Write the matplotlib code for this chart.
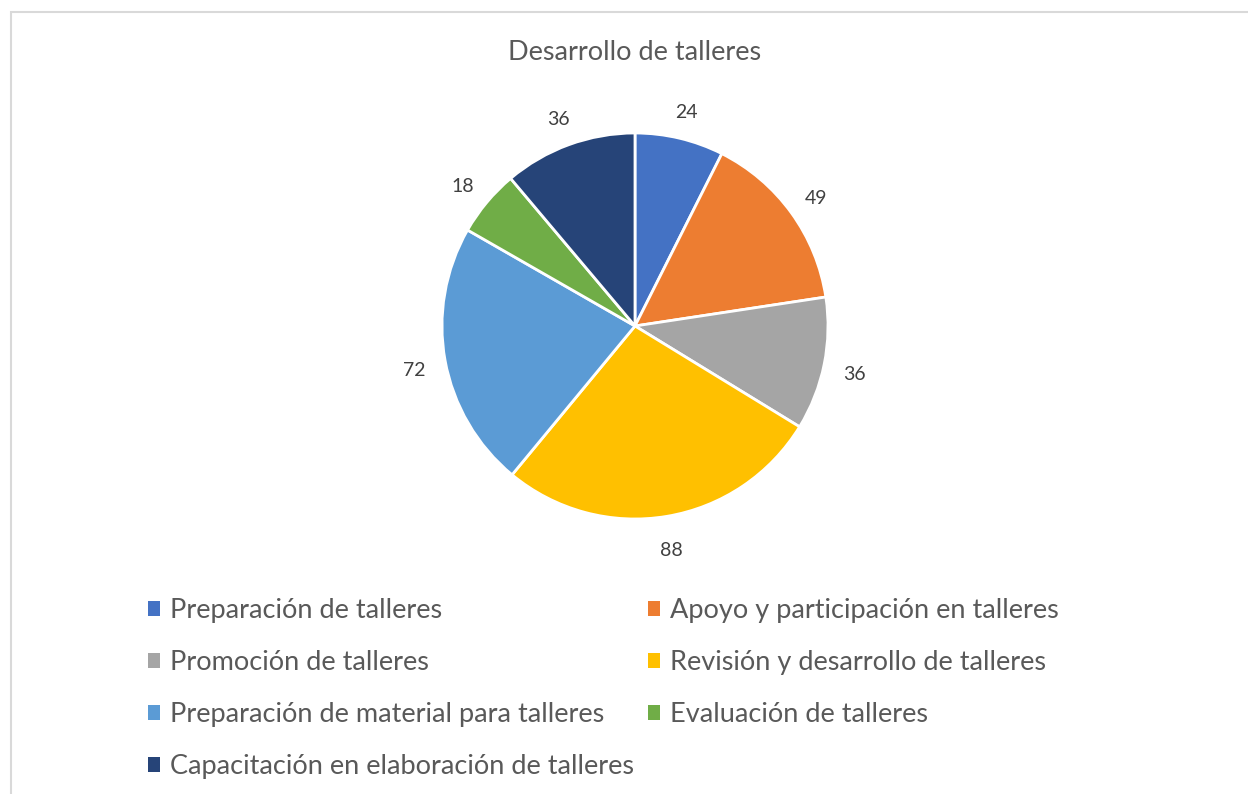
import matplotlib
matplotlib.use("Agg")
import matplotlib.pyplot as plt
from matplotlib.patches import Patch, Rectangle

categories = [
    "Preparación de talleres",
    "Apoyo y participación en talleres",
    "Promoción de talleres",
    "Revisión y desarrollo de talleres",
    "Preparación de material para talleres",
    "Evaluación de talleres",
    "Capacitación en elaboración de talleres",
]
values = [24, 49, 36, 88, 72, 18, 36]
colors = ["#4472C4", "#ED7D31", "#A5A5A5", "#FFC000", "#5B9BD5", "#70AD47", "#264478"]
title = "Desarrollo de talleres"

plt.rcParams["font.family"] = ["Lato", "DejaVu Sans"]
text_color = "#595959"

W, H = 1248, 794
fig = plt.figure(figsize=(W / 100, H / 100), dpi=100)

# chart area border
fig.patches.append(Rectangle((11 / W, -0.1), 1.2, (H - 12) / H + 0.1, transform=fig.transFigure,
                             fill=False, edgecolor="#D9D9D9", linewidth=1.5))

cx, cy, r = 635, 326, 193
ax = fig.add_axes([(cx - r) / W, (H - cy - r) / H, 2 * r / W, 2 * r / H])
total = sum(values)
wedges, texts, autotexts = ax.pie(
    values, colors=colors, startangle=90, counterclock=False, radius=1,
    wedgeprops=dict(edgecolor="white", linewidth=2),
    autopct=lambda p: f"{round(p * total / 100):d}", pctdistance=1.16,
    textprops=dict(color="#404040", fontsize=14),
)
for t in autotexts:
    x, y = t.get_position()
    t.set_position((x, y - 4 / r))
ax.set_xlim(-1, 1)
ax.set_ylim(-1, 1)
ax.set_aspect("equal")
ax.axis("off")

fig.text(cx / W, 1 - 52 / H, title, ha="center", va="center", fontsize=19.5, color=text_color)

def make_legend(idx, x0):
    handles = [Patch(facecolor=colors[i], edgecolor="none") for i in idx]
    labels = [categories[i] for i in idx]
    return fig.legend(handles, labels, ncol=1, loc="upper left",
                      bbox_to_anchor=(x0 / W, 1 - 598 / H), borderaxespad=0, borderpad=0,
                      frameon=False, fontsize=19.5, labelcolor=text_color,
                      handlelength=0.45, handleheight=0.45, handletextpad=0.35,
                      labelspacing=1.0)

make_legend([0, 2, 4, 6], 148)
make_legend([1, 3, 5], 648)

fig.savefig("out.png", dpi=100)
